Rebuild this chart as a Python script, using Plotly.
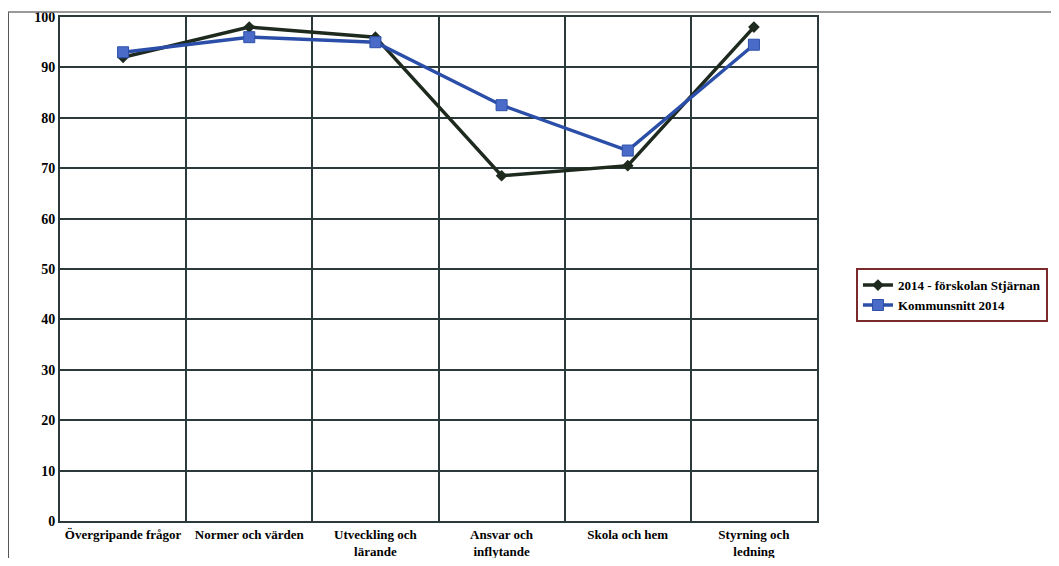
import plotly.graph_objects as go

categories = ["Övergripande frågor", "Normer och värden", "Utveckling och<br>lärande",
              "Ansvar och<br>inflytande", "Skola och hem", "Styrning och<br>ledning"]
series_school_name = "2014 - förskolan Stjärnan"
series_school = [92, 98, 96, 68.5, 70.5, 98]
series_kommun_name = "Kommunsnitt 2014"
series_kommun = [93, 96, 95, 82.5, 73.5, 94.5]
y_ticks = list(range(0, 101, 10))

FONT = "Liberation Serif"

fig = go.Figure()
fig.add_trace(go.Scatter(
    x=categories, y=series_school, name=series_school_name, mode="lines+markers",
    line=dict(color="#1f2a1f", width=3.5),
    marker=dict(symbol="diamond", size=9, color="#1f2a1f"),
))
fig.add_trace(go.Scatter(
    x=categories, y=series_kommun, name=series_kommun_name, mode="lines+markers",
    line=dict(color="#2b4fa8", width=3.5),
    marker=dict(symbol="square", size=11, color="#4a6cc8", line=dict(color="#2b4fa8", width=1)),
))

fig.update_layout(
    width=1043, height=550,
    margin=dict(l=52, r=234, t=9, b=37, autoexpand=False),
    paper_bgcolor="white", plot_bgcolor="white",
    font=dict(family=FONT, color="black", size=12),
    showlegend=True,
    legend=dict(
        xref="container", yref="container",
        x=0.813, y=0.527, xanchor="left", yanchor="top",
        bordercolor="#7a2a2a", borderwidth=2, bgcolor="white",
        font=dict(family=FONT, size=13, color="black", weight="bold"),
        tracegroupgap=0,
    ),
    xaxis=dict(
        type="category", tickson="boundaries", showgrid=True,
        gridcolor="#2a3a3a", gridwidth=1.5,
        showline=True, linecolor="#2a3a3a", linewidth=2, mirror=True,
        ticks="", tickangle=0, automargin=False,
        tickfont=dict(family=FONT, size=13, color="black", weight="bold"),
        range=[-0.5, 5.5],
    ),
    yaxis=dict(
        range=[0, 100], tickvals=y_ticks, showgrid=True,
        gridcolor="#2a3a3a", gridwidth=1.5,
        showline=True, linecolor="#2a3a3a", linewidth=2, mirror=True,
        ticks="", zeroline=False, automargin=False,
        tickfont=dict(family=FONT, size=14, color="black", weight="bold"),
    ),
)

# outer chart frame (left and top edges as in the scan)
fig.add_shape(type="line", xref="paper", yref="paper", x0=-0.0687, x1=-0.0687, y0=-0.1, y1=1.0099,
              line=dict(color="#555", width=2))
fig.add_shape(type="line", xref="paper", yref="paper", x0=-0.0687, x1=1.32, y0=1.0099, y1=1.0099,
              line=dict(color="#777", width=1.5))

fig.write_html("out.html")
